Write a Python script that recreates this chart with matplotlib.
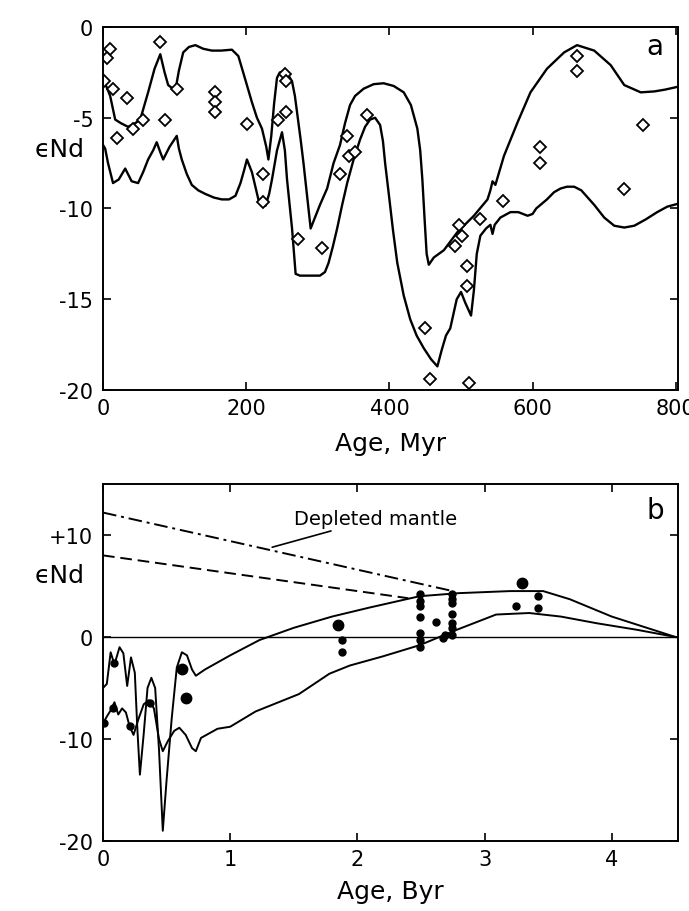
import numpy as np
import matplotlib
matplotlib.use("Agg")
import matplotlib.pyplot as plt

plt.rcParams['font.family'] = ['DejaVu Sans']
plt.rcParams['axes.unicode_minus'] = False

# --- (a) last 800 Myr: envelope curves and measured eNd (open diamonds) ---
a_upper_x = [0, 5, 10, 17, 25, 35, 45, 52, 63, 72, 80, 86, 91, 101, 106, 112, 120, 129,
             140, 152, 165, 180, 189, 198, 208, 215, 222, 228, 231, 235, 239, 243, 247,
             252, 258, 264, 268, 271, 276, 280, 285, 290, 295, 303, 313, 322, 331, 338,
             345, 352, 364, 378, 392, 406, 420, 430, 439, 443, 446, 449, 452, 455, 462,
             476, 495, 518, 537, 541, 544, 548, 560, 579, 597, 620, 644, 662, 686, 709,
             728, 751, 770, 785, 802]
a_upper_y = [-3.0, -3.3, -3.8, -5.1, -5.3, -5.5, -5.3, -5.1, -3.6, -2.3, -1.5, -2.5, -3.2,
             -3.5, -2.4, -1.4, -1.1, -1.0, -1.2, -1.3, -1.3, -1.25, -1.6, -2.8, -4.15,
             -5.0, -5.6, -6.6, -7.3, -6.0, -4.2, -2.8, -2.5, -2.45, -2.6, -3.0, -3.8,
             -4.7, -6.2, -7.5, -9.3, -11.1, -10.6, -9.8, -8.9, -7.5, -6.5, -5.3, -4.3,
             -3.8, -3.4, -3.15, -3.1, -3.25, -3.6, -4.3, -5.6, -6.8, -8.4, -10.5, -12.5,
             -13.1, -12.7, -12.3, -11.3, -10.4, -9.5, -9.0, -8.5, -8.7, -7.1, -5.25, -3.6,
             -2.3, -1.4, -1.0, -1.3, -2.1, -3.2, -3.6, -3.55, -3.45, -3.3]

a_lower_x = [0, 3, 7, 14, 22, 31, 40, 49, 56, 63, 70, 75, 80, 84, 93, 103, 106, 110, 117,
             124, 133, 143, 155, 166, 176, 185, 192, 197, 201, 208, 217, 222, 227, 232,
             236, 243, 250, 254, 257, 264, 269, 275, 290, 303, 310, 315, 321, 327, 334,
             341, 350, 359, 366, 373, 380, 387, 391, 394, 400, 405, 411, 420, 429, 438,
             448, 458, 467, 473, 479, 485, 494, 500, 506, 514, 518, 522, 527, 535, 541,
             544, 547, 555, 569, 580, 593, 600, 605, 611, 620, 630, 639, 648, 658, 668,
             677, 686, 700, 714, 728, 742, 758, 774, 788, 802]
a_lower_y = [-6.5, -6.7, -7.5, -8.6, -8.4, -7.8, -8.5, -8.6, -8.0, -7.3, -6.8, -6.35, -6.9,
             -7.3, -6.6, -6.0, -6.7, -7.3, -8.1, -8.7, -9.0, -9.2, -9.4, -9.5, -9.5, -9.3,
             -8.6, -7.9, -7.3, -8.0, -9.5, -9.8, -9.85, -9.2, -8.4, -6.8, -5.8, -6.8,
             -8.4, -11.1, -13.6, -13.7, -13.7, -13.7, -13.5, -13.0, -12.1, -11.1, -9.8,
             -8.6, -7.3, -6.2, -5.5, -5.1, -5.0, -5.4, -6.3, -7.5, -9.5, -11.2, -13.0,
             -14.8, -16.1, -17.0, -17.7, -18.3, -18.7, -17.8, -17.0, -16.6, -15.0, -14.6,
             -15.2, -15.9, -14.5, -12.5, -11.5, -11.1, -10.9, -11.4, -10.9, -10.5, -10.2,
             -10.2, -10.4, -10.3, -10.0, -9.8, -9.5, -9.1, -8.9, -8.8, -8.8, -9.0, -9.4,
             -9.8, -10.5, -10.95, -11.05, -10.95, -10.6, -10.2, -9.9, -9.75]

a_pts_x = [10, 5, 1, 14, 33, 19, 42, 56, 80, 87, 103, 157, 157, 157, 201, 224, 224,
           254, 256, 245, 255, 273, 306, 331, 343, 352, 341, 369, 450, 457, 511, 509,
           509, 492, 497, 501, 526, 559, 610, 610, 662, 662, 727, 754]
a_pts_y = [-1.2, -1.7, -3.0, -3.4, -3.9, -6.1, -5.6, -5.1, -0.85, -5.1, -3.4, -3.6,
           -4.15, -4.7, -5.35, -8.1, -9.65, -2.6, -3.0, -5.1, -4.7, -11.7, -12.2, -8.1,
           -7.1, -6.9, -6.0, -4.85, -16.6, -19.4, -19.6, -13.15, -14.25, -12.05, -10.9,
           -11.5, -10.6, -9.6, -6.6, -7.5, -1.6, -2.4, -8.9, -5.4]

# --- (b) 0-4.5 Byr: envelope curves, depleted mantle lines, data (filled circles) ---
b_upper_x = [0.00, 0.03, 0.06, 0.09, 0.13, 0.16, 0.19, 0.22, 0.25, 0.27, 0.29, 0.32,
             0.35, 0.38, 0.41, 0.44, 0.47, 0.50, 0.54, 0.58, 0.62, 0.66, 0.70, 0.73,
             0.80, 0.90, 1.00, 1.23, 1.50, 1.80, 2.10, 2.49, 2.80, 3.20, 3.46, 3.67,
             4.00, 4.50]
b_upper_y = [-5.0, -4.6, -1.5, -2.7, -1.0, -1.6, -4.8, -2.0, -3.5, -9.0, -13.5, -9.5,
             -5.0, -4.0, -5.0, -11.0, -19.0, -14.0, -8.0, -3.0, -1.5, -1.8, -3.2, -3.8,
             -3.2, -2.5, -1.8, -0.3, 0.9, 2.0, 2.9, 4.0, 4.3, 4.5, 4.5, 3.7, 2.0, 0.0]

b_lower_x = [0.00, 0.03, 0.06, 0.09, 0.12, 0.15, 0.18, 0.21, 0.24, 0.28, 0.32, 0.36,
             0.40, 0.44, 0.47, 0.51, 0.56, 0.60, 0.65, 0.70, 0.73, 0.77, 0.90, 1.00,
             1.20, 1.54, 1.78, 1.94, 2.20, 2.49, 2.78, 3.09, 3.35, 3.60, 3.88, 4.20, 4.50]
b_lower_y = [-8.5, -7.8, -7.2, -6.4, -7.6, -7.0, -7.4, -8.8, -9.6, -8.0, -6.6, -6.2,
             -7.0, -10.0, -11.2, -10.2, -9.2, -8.9, -9.6, -10.9, -11.2, -9.9, -9.0, -8.8,
             -7.3, -5.6, -3.6, -2.8, -1.9, -0.8, 0.7, 2.2, 2.35, 2.0, 1.35, 0.7, 0.0]

dm_upper_x = [0.0, 2.75]
dm_upper_y = [12.2, 4.5]
dm_lower_x = [0.0, 2.40]
dm_lower_y = [8.0, 3.8]

b_big_x = [0.62, 0.65, 1.85, 3.29]
b_big_y = [-3.1, -6.0, 1.2, 5.25]
b_pts_x = [1.88, 1.88, 2.49, 2.49, 2.49, 2.49, 2.49, 2.49, 2.49, 2.62, 2.74, 2.74,
           2.74, 2.74, 2.74, 2.74, 2.74, 2.67, 2.69, 3.25, 3.42, 3.42,
           0.09, 0.08, 0.01, 0.21, 0.37]
b_pts_y = [-0.3, -1.45, 4.2, 3.5, 3.0, 2.0, 0.4, -0.3, -0.95, 1.5, 4.2, 3.7, 3.3,
           2.3, 1.35, 0.85, 0.2, -0.1, 0.2, 3.0, 4.0, 2.85,
           -2.6, -7.0, -8.4, -8.7, -6.5]

fig = plt.figure(figsize=(6.89, 9.12), dpi=100)
ax1 = fig.add_axes([0.1495, 0.5713, 0.8345, 0.398])
ax2 = fig.add_axes([0.1495, 0.0768, 0.8345, 0.3914])

# panel a
ax1.plot(a_upper_x, a_upper_y, color='black', lw=1.7)
ax1.plot(a_lower_x, a_lower_y, color='black', lw=1.7)
ax1.plot(a_pts_x, a_pts_y, ls='none', marker='D', ms=6.5, mfc='white', mec='black', mew=1.3)
ax1.set_xlim(0, 803)
ax1.set_ylim(-20, 0)
ax1.set_xticks([0, 200, 400, 600, 800])
ax1.set_yticks([0, -5, -10, -15, -20])
ax1.set_xlabel('Age, Myr', fontsize=18, labelpad=9)
ax1.set_ylabel('ϵNd', fontsize=18, rotation=0)
ax1.yaxis.set_label_coords(-0.075, 0.63)
ax1.text(0.96, 0.948, 'a', transform=ax1.transAxes, fontsize=20, ha='center', va='center')

# panel b
ax2.axhline(0, color='black', lw=1.0)
ax2.plot(dm_upper_x, dm_upper_y, color='black', lw=1.4, ls=(0, (7, 2.5, 1.5, 2.5)))
ax2.plot(dm_lower_x, dm_lower_y, color='black', lw=1.4, ls=(0, (6, 3)))
ax2.plot(b_upper_x, b_upper_y, color='black', lw=1.4)
ax2.plot(b_lower_x, b_lower_y, color='black', lw=1.4)
ax2.plot(b_big_x, b_big_y, ls='none', marker='o', ms=7.5, color='black')
ax2.plot(b_pts_x, b_pts_y, ls='none', marker='o', ms=5, color='black')
ax2.annotate('Depleted mantle', xy=(1.33, 8.8), xytext=(1.50, 11.6), fontsize=14,
             va='center', ha='left',
             arrowprops=dict(arrowstyle='-', color='black', lw=1.2, shrinkA=0, shrinkB=0))
ax2.set_xlim(0, 4.52)
ax2.set_ylim(-20, 15)
ax2.set_xticks([0, 1, 2, 3, 4])
ax2.set_yticks([10, 0, -10, -20], ['+10', '0', '-10', '-20'])
ax2.set_xlabel('Age, Byr', fontsize=18, labelpad=7)
ax2.set_ylabel('ϵNd', fontsize=18, rotation=0)
ax2.yaxis.set_label_coords(-0.075, 0.711)
ax2.text(0.96, 0.927, 'b', transform=ax2.transAxes, fontsize=20, ha='center', va='center')

for ax in (ax1, ax2):
    ax.tick_params(direction='in', length=6, width=1.2, top=True, right=True,
                   labelsize=15)
    ax.tick_params(axis='x', pad=6)
    ax.tick_params(axis='y', pad=7)
    for s in ax.spines.values():
        s.set_linewidth(1.4)

fig.savefig('out.png', dpi=100)
